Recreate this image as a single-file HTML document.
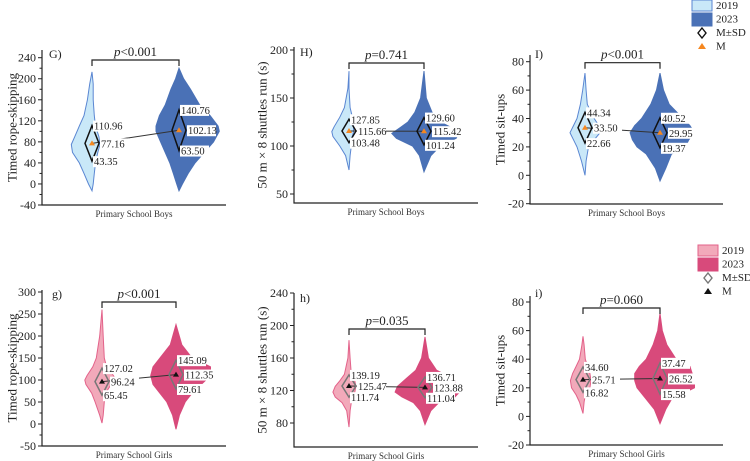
<!DOCTYPE html>
<html><head><meta charset="utf-8">
<style>
html,body{margin:0;padding:0;background:#fff;}
svg{display:block;font-family:"Liberation Serif",serif;}
</style></head>
<body>
<svg id="fig" width="750" height="461" viewBox="0 0 750 461" xmlns="http://www.w3.org/2000/svg"></svg>
<script>
// ---- data ----
const panelIds = ["G","H","I","g","h","i"];
const yTitles = ["Timed rope-skipping","50 m × 8 shuttles run (s)","Timed sit-ups","Timed rope-skipping","50 m × 8 shuttles run (s)","Timed sit-ups"];
const xLabels = ["Primary School Boys","Primary School Boys","Primary School Boys","Primary School Girls","Primary School Girls","Primary School Girls"];
const pTexts = ["<0.001","=0.741","<0.001","<0.001","=0.035","=0.060"];
const yTicksG = [-40,0,40,80,120,160,200,240];
const yTicksH = [50,100,150,200];
const yTicksI = [-20,0,20,40,60,80];
const yTicksg = [-50,0,50,100,150,200,250,300];
const yTicksh = [80,120,160,200,240];
const yTicksi = [-20,0,20,40,60,80];
const means2019 = [77.16,115.66,33.50,96.24,125.47,25.71];
const upper2019 = [110.96,127.85,44.34,127.02,139.19,34.60];
const lower2019 = [43.35,103.48,22.66,65.45,111.74,16.82];
const means2023 = [102.13,115.42,29.95,112.35,123.88,26.52];
const upper2023 = [140.76,129.60,40.52,145.09,136.71,37.47];
const lower2023 = [63.50,101.24,19.37,79.61,111.04,15.58];
// density profiles: values and relative densities (left / right)
const dG19v=[-13,0,20,40,60,75,90,110,130,160,190,213], dG19l=[0,3,7,11,17,18,15,11,7,4,2,0], dG19r=[0,1,2,3,5,7,6,3,2,1,1,0];
const dG23v=[-13,0,20,40,60,80,100,110,130,150,180,200,220], dG23l=[0,2,5,8,12,16,20,20,17,12,7,3,0], dG23r=[0,3,8,14,22,30,35,34,27,18,10,4,0];
const dH19v=[75,90,100,110,115,120,130,140,160,178], dH19l=[0,3,8,14,15,13,8,4,1,0], dH19r=[0,1,2,3,4,4,3,1,0,0];
const dH23v=[73,90,100,108,113,118,125,135,150,178], dH23l=[0,4,10,24,28,22,14,8,3,0], dH23r=[0,6,14,28,30,26,14,7,2,0];
const dI19v=[0,10,20,25,30,35,40,50,60,72], dI19l=[0,3,7,10,13,10,7,4,2,0], dI19r=[0,1,3,8,13,12,8,2,1,0];
const dI23v=[-4,5,15,20,25,30,35,40,50,60,72], dI23l=[0,4,12,20,24,26,22,16,8,3,0], dI23r=[0,5,10,22,25,30,26,20,8,3,0];
const dg19v=[2,20,50,70,90,100,110,130,150,200,260], dg19l=[0,2,6,9,14,15,13,8,5,2,0], dg19r=[0,1,2,3,8,12,10,4,2,1,0];
const dg23v=[-12,20,50,70,90,110,130,150,180,226], dg23l=[0,3,8,14,20,22,20,14,5,0], dg23r=[0,3,8,14,22,30,30,14,5,0];
const dh19v=[75,95,105,112,118,125,132,140,160,182], dh19l=[0,2,6,12,14,12,8,4,1,0], dh19r=[0,1,2,4,5,6,5,2,1,0];
const dh23v=[78,95,105,112,118,125,135,145,160,186], dh23l=[0,4,10,20,26,24,16,8,3,0], dh23r=[0,5,12,26,30,28,24,10,3,0];
const di19v=[2,10,15,20,25,30,35,40,50,56], di19l=[0,3,6,10,11,9,6,3,1,0], di19r=[0,1,2,6,7,6,4,2,1,0];
const di23v=[-5,5,12,20,25,30,35,40,50,60,72], di23l=[0,5,12,20,22,22,18,12,6,2,0], di23r=[0,5,10,30,30,28,26,14,6,2,0];

// ---- layout ----
const layout=[
 {ax:42,top:50,bot:205,xEnd:226,v0:-40,p0:205,v1:240,p1:57.7,c1:92,c2:179,br:60,lab:[49,58],ticks:yTicksG,d:[dG19v,dG19l,dG19r,dG23v,dG23l,dG23r],tx:12},
 {ax:294,top:47,bot:203,xEnd:478,v0:50,p0:194,v1:200,p1:50,c1:349,c2:424,br:63,lab:[300,56],ticks:yTicksH,d:[dH19v,dH19l,dH19r,dH23v,dH23l,dH23r],tx:262},
 {ax:530,top:55,bot:204,xEnd:723,v0:-20,p0:203.7,v1:80,p1:61.7,c1:585,c2:660,br:62.7,lab:[535,58],ticks:yTicksI,d:[dI19v,dI19l,dI19r,dI23v,dI23l,dI23r],tx:500},
 {ax:42,top:290,bot:446,xEnd:226,v0:-50,p0:446,v1:300,p1:292,c1:102,c2:176,br:302,lab:[52,298],ticks:yTicksg,d:[dg19v,dg19l,dg19r,dg23v,dg23l,dg23r],tx:12},
 {ax:294,top:293,bot:447,xEnd:478,v0:80,p0:423,v1:240,p1:293,c1:349,c2:425,br:329,lab:[300,302],ticks:yTicksh,d:[dh19v,dh19l,dh19r,dh23v,dh23l,dh23r],tx:262},
 {ax:530,top:296,bot:445,xEnd:723,v0:-20,p0:445,v1:80,p1:302,c1:583,c2:660,br:308,lab:[535,297],ticks:yTicksi,d:[di19v,di19l,di19r,di23v,di23l,di23r],tx:500}
];

const NS="http://www.w3.org/2000/svg";
const svg=document.getElementById("fig");
function mk(tag,attrs,parent){const e=document.createElementNS(NS,tag);for(const k in attrs)e.setAttribute(k,attrs[k]);(parent||svg).appendChild(e);return e;}

panelIds.forEach((id,i)=>{
 const L=layout[i];
 const girls=i>=3;
 const g=mk("g",{});
 
 
 const y=v=>L.p0+(v-L.v0)*(L.p1-L.p0)/(L.v1-L.v0);
 const dens=d=>d*1.15;
 const cols=girls?{f1:"#f2a9ba",s1:"#e3628a",f2:"#d84a7b",s2:"#d84a7b",dia:"#777",mk:"#111"}:{f1:"#c9e8f8",s1:"#5a86d2",f2:"#4a71b6",s2:"#4a71b6",dia:"#111",mk:"#f5871f"};
 [[L.c1,0,cols.f1,cols.s1,'2019'],[L.c2,3,cols.f2,cols.s2,'2023']].forEach(([cx,k,f,s,yr])=>{
  const vs=L.d[k],ls=L.d[k+1],rs=L.d[k+2];
  let pts=[];
  for(let j=0;j<vs.length;j++)pts.push((cx-dens(ls[j])).toFixed(1)+","+y(vs[j]).toFixed(1));
  for(let j=vs.length-1;j>=0;j--)pts.push((cx+dens(rs[j])).toFixed(1)+","+y(vs[j]).toFixed(1));
  const p=mk("polygon",{points:pts.join(" "),fill:f,stroke:s,"stroke-width":1},g);
  
  
 });
 const ax=mk("path",{d:`M${L.ax},${L.top} V${L.bot} H${L.xEnd}`,fill:"none",stroke:"#222","stroke-width":1.2},g);
 
 
 const t=L.ticks;
 t.forEach((tv,j)=>{
  const yy=y(tv);
  mk("line",{x1:L.ax-4,x2:L.ax,y1:yy,y2:yy,stroke:"#222"},g);
  const tl=mk("text",{x:L.ax-6,y:yy+4,"text-anchor":"end","font-size":12,fill:"#222"},g);
  tl.textContent=tv;
  
  
  if(j<t.length-1){const ym=y((tv+t[j+1])/2);mk("line",{x1:L.ax-2.5,x2:L.ax,y1:ym,y2:ym,stroke:"#222"},g);}
 });
 const cy=(L.top+L.bot)/2;
 const yt=mk("text",{x:L.tx,y:cy,transform:`rotate(-90 ${L.tx} ${cy})`,"text-anchor":"middle","dominant-baseline":"central","font-size":13,fill:"#222"},g);
 yt.textContent=yTitles[i];
 
 
 const xl=mk("text",{x:(L.ax+L.xEnd)/2,y:L.bot+12,"text-anchor":"middle","font-size":9,fill:"#333"},g);
 xl.textContent=xLabels[i];
 
 
 const pl=mk("text",{x:L.lab[0],y:L.lab[1],"font-size":12,fill:"#222"},g);
 pl.textContent=id+")";
 
 
 mk("path",{d:`M${L.c1},${L.br+6} V${L.br} H${L.c2} V${L.br+6}`,fill:"none",stroke:"#222","stroke-width":1.2},g);
 const pt=mk("text",{x:(L.c1+L.c2)/2,y:L.br-4,"text-anchor":"middle","font-size":13,fill:"#222"},g);
 pt.innerHTML='<tspan font-style="italic">p</tspan>'+pTexts[i].replace('<','&lt;');
 
 
 mk("line",{x1:L.c1,y1:y(means2019[i]),x2:L.c2,y2:y(means2023[i]),stroke:"#333","stroke-width":1},g);
 [[L.c1,means2019,upper2019,lower2019],[L.c2,means2023,upper2023,lower2023]].forEach(([cx,M,U,Lo])=>{
  const m=y(M[i]),u=y(U[i]),lo=y(Lo[i]);
  const d=mk("polygon",{points:`${cx},${u} ${cx+7},${m} ${cx},${lo} ${cx-7},${m}`,fill:"none",stroke:cols.dia,"stroke-width":1.5},g);
  
  
  const tr=mk("polygon",{points:`${cx},${m-3} ${cx+3},${m+2} ${cx-3},${m+2}`,fill:cols.mk},g);
  
  
  [[U[i],u,cx+1],[M[i],m,cx+8],[Lo[i],lo,cx+1]].forEach(([val,yy,xx])=>{
   mk("rect",{x:xx,y:yy-5,width:29,height:11,fill:"#fff"},g);
   const lt=mk("text",{x:xx+1,y:yy+4,"font-size":10.5,fill:"#222"},g);
   lt.textContent=val.toFixed(2);
   
   
  });
 });
});

function legend(x,y0,f1,s1,f2,dia,mkc,name){
 const g=mk("g",{});
 
 
 mk("rect",{x:x,y:y0,width:20,height:11,fill:f1,stroke:s1},g);
 mk("rect",{x:x,y:y0+13,width:20,height:13,fill:f2,stroke:f2},g);
 const lbl=["2019","2023","M±SD","M"];
 lbl.forEach((s,j)=>{const t=mk("text",{x:x+24,y:y0+9+j*13.5,"font-size":11,fill:"#222"},g);t.textContent=s;});
 const dy=y0+33, ty=y0+47;
 mk("polygon",{points:`${x+10},${dy-5} ${x+14},${dy} ${x+10},${dy+5} ${x+6},${dy}`,fill:"none",stroke:dia,"stroke-width":1.4},g);
 mk("polygon",{points:`${x+10},${ty-4} ${x+14},${ty+2} ${x+6},${ty+2}`,fill:mkc},g);
}
legend(692,0,"#c9e8f8","#5a86d2","#4a71b6","#111","#f5871f","legend-boys");
legend(698,245,"#f2a9ba","#e3628a","#d84a7b","#777","#111","legend-girls");
</script>
</body></html>
